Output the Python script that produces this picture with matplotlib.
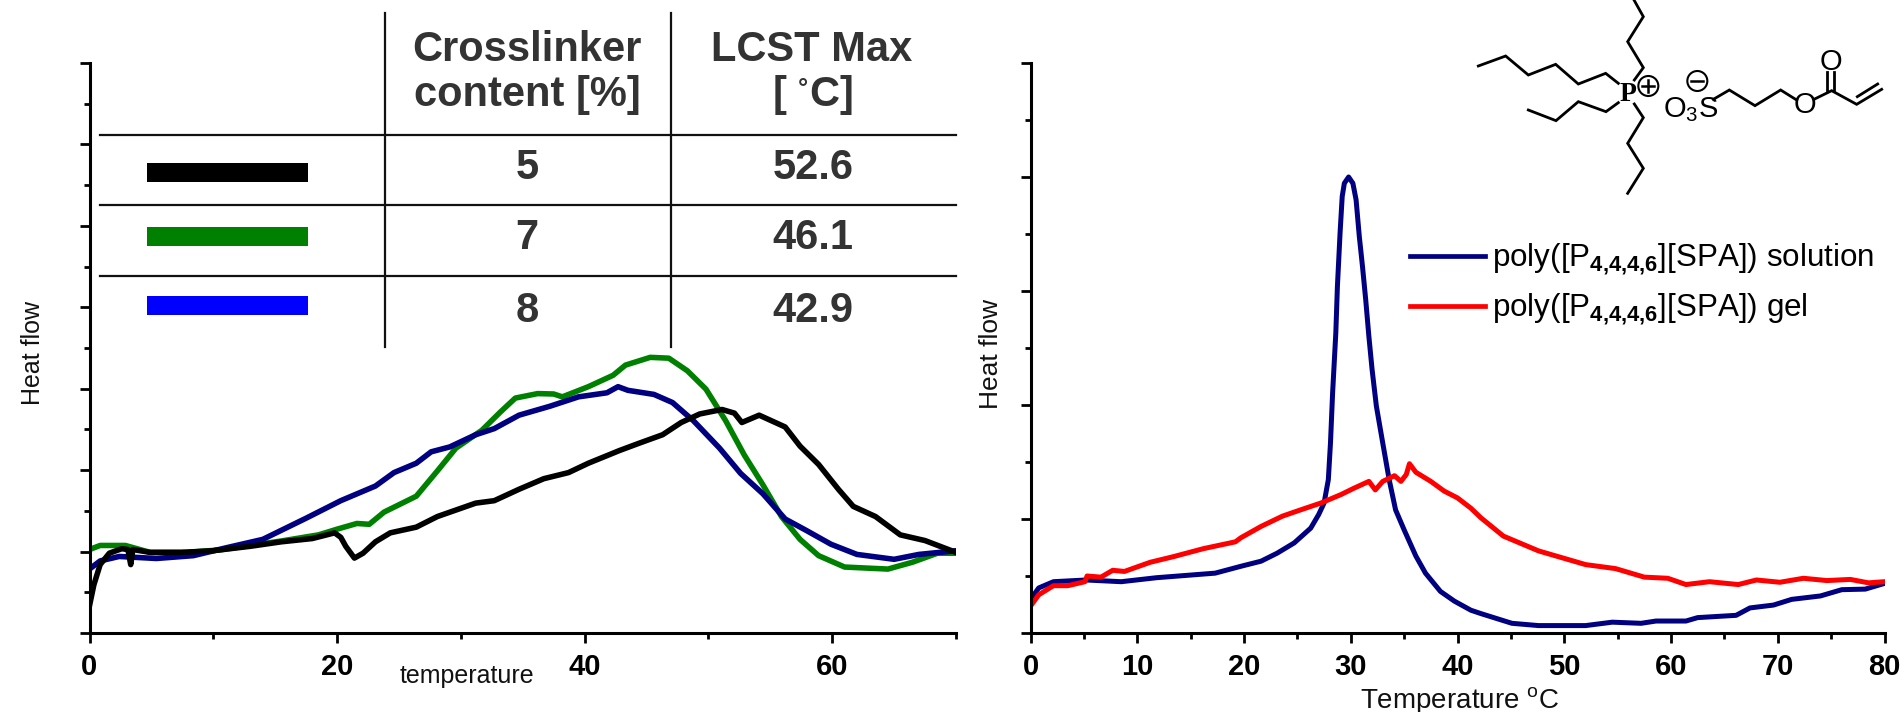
import matplotlib
matplotlib.use("Agg")
import matplotlib.pyplot as plt
from matplotlib.patches import Circle, Rectangle

plt.rcParams['font.family'] = ['Liberation Sans', 'DejaVu Sans']
plt.rcParams['mathtext.fontset'] = 'custom'
plt.rcParams['mathtext.rm'] = 'Liberation Sans'
plt.rcParams['mathtext.bf'] = 'Liberation Sans:bold'
plt.rcParams['mathtext.it'] = 'Liberation Sans:italic'
plt.rcParams['mathtext.default'] = 'regular'

# Left panel, crosslinker series
x_black = [0, .35, .86, 1.6, 2.6, 3.1, 3.33, 3.5, 4.9, 7.4, 9.95, 13, 15.5, 18, 19.8, 20.3, 20.7, 21.4, 22.1, 23.1,
           24.3, 26.4, 28.1, 31.2, 32.7, 34.7, 36.7, 38.7, 40.3, 42.8, 44.3, 46.3, 47.8, 49.3, 51.1, 52.1, 52.7,
           54.1, 56.2, 57.4, 58.9, 60.5, 61.7, 63.5, 65.5, 67.5, 70]
y_black = [.67, 1.18, 1.68, 1.96, 2.07, 2.05, 1.68, 2.05, 1.98, 1.98, 2.02, 2.13, 2.24, 2.32, 2.46, 2.35, 2.13, 1.84,
           1.96, 2.24, 2.46, 2.6, 2.86, 3.19, 3.25, 3.53, 3.79, 3.94, 4.17, 4.48, 4.65, 4.87, 5.17, 5.38, 5.49, 5.4,
           5.17, 5.35, 5.06, 4.59, 4.14, 3.53, 3.11, 2.86, 2.41, 2.27, 1.98]
x_green = [0, .86, 2.9, 4.9, 7.9, 10.5, 13, 15.5, 18.5, 20, 21.6, 22.6, 23.8, 26.4, 28.1, 29.6, 31.7, 33.2, 34.4, 36.2,
           37.5, 38.2, 40.3, 42.3, 43.3, 45.3, 46.8, 48.3, 49.8, 51.4, 52.9, 54.4, 55.9, 57.4, 58.9, 61, 64.5, 66.5,
           68.5, 70]
y_green = [2.05, 2.15, 2.15, 1.98, 1.98, 2.04, 2.15, 2.26, 2.41, 2.55, 2.69, 2.67, 2.97, 3.36, 3.98, 4.54, 4.98, 5.43,
           5.77, 5.88, 5.87, 5.8, 6.05, 6.33, 6.58, 6.77, 6.75, 6.44, 5.99, 5.21, 4.37, 3.64, 2.86, 2.3, 1.9, 1.62,
           1.57, 1.74, 1.96, 1.96]
x_navy = [0, .86, 2.4, 5.4, 8.4, 11, 14, 17.5, 20.3, 23.1, 24.6, 26.4, 27.6, 29.1, 31.2, 32.7, 34.7, 37.2, 39.5, 41.8,
          42.7, 43.5, 45.6, 47.1, 48.8, 50.9, 52.6, 54.4, 56.2, 57.9, 59.9, 62, 65, 67, 70]
y_navy = [1.57, 1.77, 1.88, 1.83, 1.9, 2.09, 2.3, 2.82, 3.25, 3.61, 3.94, 4.17, 4.45, 4.57, 4.87, 5.02, 5.35, 5.57,
          5.8, 5.9, 6.05, 5.96, 5.86, 5.66, 5.21, 4.54, 3.92, 3.42, 2.8, 2.52, 2.18, 1.93, 1.81, 1.93, 2.02]

# Right panel
x_solution = [0, .77, 2.15, 5.2, 8.5, 11.8, 17.3, 19.7, 21.6, 23.1, 24.7, 26.25, 27, 27.5, 27.9, 28.1, 28.3, 28.6,
              28.75, 29, 29.2, 29.4, 29.8, 30.2, 30.5, 30.8, 31.1, 31.4, 31.7, 32, 32.4, 33, 33.6, 34.2, 35, 36.1, 37,
              38.4, 39.7, 41.25, 42.2, 45.1, 47.6, 52, 54.5, 57.2, 58.6, 61.4, 62.5, 66.1, 67.4, 69.6, 71.3, 74, 76,
              78.2, 80]
y_solution = [.59, .79, .9, .93, .9, .97, 1.05, 1.17, 1.26, 1.4, 1.58, 1.84, 2.08, 2.28, 2.69, 3.33, 4.21, 5.26, 6.08,
              7.02, 7.66, 7.89, 8, 7.89, 7.6, 6.96, 6.43, 5.85, 5.2, 4.62, 3.98, 3.33, 2.69, 2.16, 1.81, 1.35, 1.05,
              .73, .56, .4, .34, .17, .13, .13, .19, .17, .21, .21, .27, .31, .44, .49, .59, .65, .76, .77, .87]
x_gel = [0, .77, 2.15, 3.5, 5.1, 5.3, 6.6, 7.7, 8.8, 11.2, 13.4, 16.2, 19.2, 19.7, 21.6, 23.6, 25.3, 27.2, 29.1, 30.3,
         31.7, 32.3, 33, 34.1, 34.7, 35.2, 35.5, 36.1, 37.5, 38.75, 40, 41.25, 42.2, 44.3, 47.6, 52, 54.8, 57.5, 59.7,
         61.4, 63.6, 66.3, 68, 70.2, 72.4, 74.6, 76.8, 78.5, 80]
y_gel = [.47, .67, .83, .83, .9, 1.0, .98, 1.1, 1.08, 1.24, 1.34, 1.48, 1.6, 1.67, 1.87, 2.05, 2.16, 2.28, 2.43, 2.54,
         2.66, 2.51, 2.66, 2.76, 2.66, 2.78, 2.97, 2.82, 2.66, 2.49, 2.37, 2.19, 2.02, 1.7, 1.44, 1.2, 1.13, .98, .96,
         .85, .9, .85, .93, .89, .96, .92, .94, .88, .9]

table_head_1 = ["Crosslinker", "content [%]"]
table_head_2 = ["LCST Max", "[ $^{\\circ}$C]"]
crosslinker = ["5", "7", "8"]
lcst_max = ["52.6", "46.1", "42.9"]
swatch_colors = ["black", "#008000", "#0000ff"]

W, H = 1901, 712
fig = plt.figure(figsize=(W / 100, H / 100), dpi=100)


def make_axes(x0, x1, xlim, ylim, xmajor, xminor, ymajor, yminor):
    ax = fig.add_axes([x0 / W, 1 - 633 / H, (x1 - x0) / W, 570 / H])
    ax.set_xlim(*xlim)
    ax.set_ylim(*ylim)
    ax.spines['top'].set_visible(False)
    ax.spines['right'].set_visible(False)
    ax.spines['left'].set_linewidth(2.2)
    ax.spines['bottom'].set_linewidth(2.2)
    ax.set_xticks(xmajor)
    ax.set_xticks(xminor, minor=True)
    ax.set_yticks(ymajor)
    ax.set_yticks(yminor, minor=True)
    ax.set_yticklabels([])
    ax.tick_params(which='major', length=7.5, width=2)
    ax.tick_params(which='minor', length=4, width=2)
    ax.tick_params(axis='x', which='major', labelsize=21, pad=7)
    for label in ax.get_xticklabels():
        label.set_fontweight('bold')
    return ax


# Left chart
ax1 = make_axes(89.5, 956, (0, 70), (0, 14), [0, 20, 40, 60], [10, 30, 50, 70],
                range(0, 15, 2), range(1, 14, 2))
ax1.plot(x_green, y_green, color="#008000", lw=4, solid_joinstyle='round')
ax1.plot(x_navy, y_navy, color="#000080", lw=4, solid_joinstyle='round')
ax1.plot(x_black, y_black, color="black", lw=4, solid_joinstyle='round')

# Right chart
ax2 = make_axes(1030.5, 1884.5, (0, 80), (0, 10), range(0, 81, 10), range(5, 80, 10),
                range(0, 11, 2), range(1, 10, 2))
ax2.plot(x_solution, y_solution, color="#000080", lw=3.6, solid_joinstyle='round')
ax2.plot(x_gel, y_gel, color="#ff0000", lw=3.6, solid_joinstyle='round')

# Everything else sits on an overlay in pixel coordinates
over = fig.add_axes([0, 0, 1, 1], zorder=5)
over.set_xlim(0, W)
over.set_ylim(H, 0)
over.axis('off')

over.text(467, 676, "temperature", fontsize=18, ha='center', va='center', color="#111111")
over.text(33, 353, "Heat flow", fontsize=18, rotation=90, ha='center', va='center', color="#111111")
over.text(1460, 700, "Temperature $^{o}$C", fontsize=20, ha='center', va='center', color="#111111")
over.text(991, 354, "Heat flow", fontsize=19, rotation=90, ha='center', va='center', color="#111111")

# Table
for vx in [385, 670.5]:
    over.plot([vx, vx], [13, 347], color="#111111", lw=1.6)
for hy in [134.5, 204.5, 276]:
    over.plot([100, 956], [hy, hy], color="#111111", lw=1.6)
for cy, c in zip([172.5, 236.5, 305.5], swatch_colors):
    over.add_patch(Rectangle((147, cy - 9.5), 161, 19, color=c, lw=0))
table_color = "#333333"
for ty, s in zip([50, 95], table_head_1):
    over.text(527, ty, s, fontsize=30, fontweight='bold', ha='center', va='center', color=table_color)
for ty, s in zip([50, 95], table_head_2):
    over.text(812, ty, s, fontsize=30, fontweight='bold', ha='center', va='center', color=table_color)
for ty, a, b in zip([168, 238, 311], crosslinker, lcst_max):
    over.text(527, ty, a, fontsize=30, fontweight='bold', ha='center', va='center', color=table_color)
    over.text(813, ty, b, fontsize=30, fontweight='bold', ha='center', va='center', color=table_color)

# Legend of the right chart
legend_rows = [(256, 266, "#000080", "poly([P$_{\\mathbf{4{,}4{,}4{,}6}}$][SPA]) solution"),
               (306, 316, "#ff0000", "poly([P$_{\\mathbf{4{,}4{,}4{,}6}}$][SPA]) gel")]
for ly, base, c, s in legend_rows:
    over.plot([1410, 1485], [ly, ly], color=c, lw=3.4)
    over.text(1492, base, s, fontsize=22.6, ha='left', va='baseline', color="black")

# Structure drawing, px = 1450 + u / 3, py = v / 3
bonds = [
    [(85, 198), (167, 168), (235, 225), (317, 193), (385, 252), (467, 220), (505, 250)],
    [(235, 330), (318, 362), (385, 305), (468, 335), (505, 308)],
    [(552, 0), (580, 50), (533, 125), (580, 203), (553, 240)],
    [(553, 312), (580, 353), (533, 430), (580, 505), (533, 580)],
    [(790, 298), (838, 270), (915, 317), (992, 270), (1040, 300)],
    [(1092, 298), (1145, 272), (1220, 313), (1295, 268)],
    [(1222, 290), (1283, 252)],
    [(1130, 270), (1130, 215)],
    [(1152, 270), (1152, 215)],
]
for b in bonds:
    over.plot([1450 + u / 3 for u, v in b], [v / 3 for u, v in b], color="black", lw=2, solid_joinstyle='miter')
over.text(1450 + 533 / 3, 283 / 3, "P", fontsize=20, fontweight='bold', family='Liberation Serif', ha='center', va='center')
over.text(1450 + 722 / 3, 318 / 3, "O$_3$S", fontsize=21, ha='center', va='center_baseline')
over.text(1450 + 1065 / 3, 315 / 3, "O", fontsize=21, ha='center', va='center')
over.text(1450 + 1142 / 3, 185 / 3, "O", fontsize=21, ha='center', va='center')
over.add_patch(Circle((1450 + 595 / 3, 258 / 3), 10, fill=False, ec="black", lw=1.5))
over.plot([1450 + 595 / 3 - 6, 1450 + 595 / 3 + 6], [86, 86], color="black", lw=1.8)
over.plot([1450 + 595 / 3, 1450 + 595 / 3], [80, 92], color="black", lw=1.8)
over.add_patch(Circle((1450 + 742 / 3, 243 / 3), 10, fill=False, ec="black", lw=1.5))
over.plot([1450 + 742 / 3 - 6, 1450 + 742 / 3 + 6], [81, 81], color="black", lw=1.8)

plt.savefig('out.png', dpi=100)
